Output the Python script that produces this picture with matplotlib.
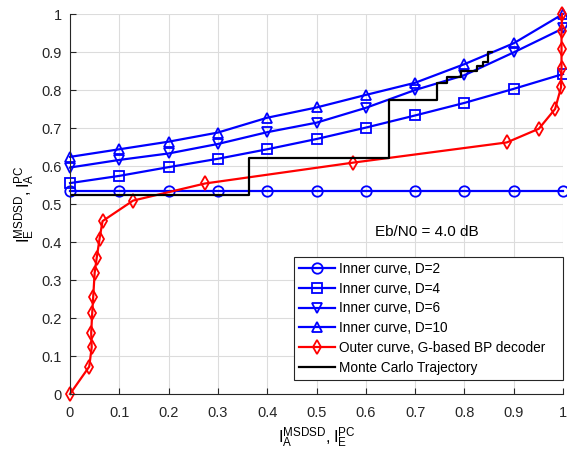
import numpy as np
import matplotlib.pyplot as plt

plt.rcParams['font.family'] = ['Liberation Sans', 'DejaVu Sans']
plt.rcParams['mathtext.default'] = 'regular'

# inner curves (x = 0, 0.1, ..., 1)
ia_inner = [0, 0.1, 0.2, 0.3, 0.4, 0.5, 0.6, 0.7, 0.8, 0.9, 1.0]
ie_d2 = [0.533] * 11
ie_d4 = [0.555, 0.574, 0.597, 0.619, 0.644, 0.671, 0.701, 0.733, 0.766, 0.803, 0.842]
ie_d6 = [0.596, 0.616, 0.633, 0.658, 0.689, 0.714, 0.753, 0.800, 0.839, 0.899, 0.962]
ie_d10 = [0.624, 0.644, 0.664, 0.688, 0.727, 0.754, 0.787, 0.819, 0.868, 0.923, 1.0]

# outer curve
outer_x = [0, 0.039, 0.044, 0.043, 0.045, 0.047, 0.050, 0.054, 0.060, 0.066, 0.128,
           0.274, 0.575, 0.886, 0.951, 0.984, 0.996, 0.997, 0.997, 0.997, 0.998]
outer_y = [0, 0.072, 0.123, 0.161, 0.212, 0.254, 0.319, 0.357, 0.409, 0.455, 0.509,
           0.554, 0.609, 0.662, 0.698, 0.750, 0.807, 0.857, 0.907, 0.956, 1.0]

# Monte Carlo trajectory (staircase vertices)
traj_x = [0, 0.364, 0.364, 0.648, 0.648, 0.744, 0.744, 0.764, 0.764, 0.794, 0.794,
          0.825, 0.825, 0.838, 0.838, 0.848, 0.848, 0.855]
traj_y = [0.524, 0.524, 0.622, 0.622, 0.775, 0.775, 0.819, 0.819, 0.833, 0.833, 0.850,
          0.850, 0.864, 0.864, 0.874, 0.874, 0.900, 0.900]

fig = plt.figure(figsize=(5.67, 4.53), dpi=100)
ax = fig.add_axes([70 / 567, 1 - 394 / 453, 493 / 567, 380 / 453])

blue = '#0000ff'
red = '#ff0000'
kw = dict(lw=1.6, markersize=7.5, markerfacecolor='none', markeredgewidth=1.3, clip_on=False)
ax.plot(ia_inner, ie_d2, '-o', color=blue, label='Inner curve, D=2', **kw)
ax.plot(ia_inner, ie_d4, '-s', color=blue, label='Inner curve, D=4', **kw)
ax.plot(ia_inner, ie_d6, '-v', color=blue, label='Inner curve, D=6', **kw)
ax.plot(ia_inner, ie_d10, '-^', color=blue, label='Inner curve, D=10', **kw)
ax.plot(outer_x, outer_y, '-d', color=red, label='Outer curve, G-based BP decoder', **kw)
ax.plot(traj_x, traj_y, '-', color='black', lw=1.6, label='Monte Carlo Trajectory')

ax.set_xlim(0, 1)
ax.set_ylim(0, 1)
ticks = np.round(np.arange(0, 1.01, 0.1), 1)
labels = ['0'] + [f'{t:g}' for t in ticks[1:-1]] + ['1']
ax.set_xticks(ticks)
ax.set_xticklabels(labels)
ax.set_yticks(ticks)
ax.set_yticklabels(labels)
ax.tick_params(labelsize=10.5, direction='in', length=4, colors='#262626')
ax.tick_params(axis='x', pad=8.5)
ax.tick_params(axis='y', pad=6)
ax.grid(True, color='#dcdcdc', lw=0.8)
ax.set_axisbelow(True)
ax.spines['top'].set_visible(False)
ax.spines['right'].set_visible(False)
for s in ['left', 'bottom']:
    ax.spines[s].set_color('#262626')
    ax.spines[s].set_linewidth(0.8)

ax.set_xlabel(r'$I_A^{MSDSD}, I_E^{PC}$', fontsize=12, labelpad=4)
ax.set_ylabel(r'$I_E^{MSDSD}, I_A^{PC}$', fontsize=12, labelpad=3)

ax.text(0.724, 0.427, 'Eb/N0 = 4.0 dB', fontsize=11, ha='center', va='center')

leg = ax.legend(loc='lower left', bbox_to_anchor=(224 / 493, 14 / 380, 269 / 493, 0.3),
                mode='expand', fontsize=9.8,
                frameon=True, fancybox=False, edgecolor='#262626', framealpha=1,
                handlelength=2.6, borderpad=0.4, labelspacing=0.42, handletextpad=0.3,
                borderaxespad=0)
leg.get_frame().set_linewidth(0.8)

fig.savefig('out.png', dpi=100)
